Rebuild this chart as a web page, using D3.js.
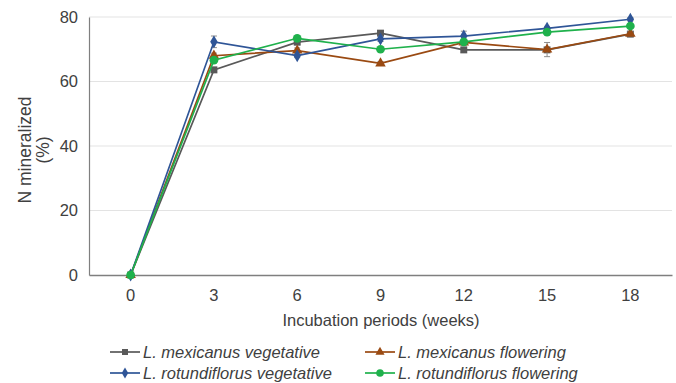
<!DOCTYPE html>
<html lang="en">

<head>
    <meta charset="UTF-8">
    <title>N mineralized</title>
    <script src="https://d3js.org/d3.v7.min.js"></script>
    <style>
        body { margin: 0; background: #fff; }
        text { font-family: "Liberation Sans", Arial, sans-serif; fill: #404040; }
    </style>
</head>

<body>
    <div id="chart"></div>
    <script>
        // weeks of incubation
        const weeks = ["0", "3", "6", "9", "12", "15", "18"];
        const yTicks = [0, 20, 40, 60, 80];

        const mexVeg = [0, 63.6, 72.2, 75.0, 69.8, 69.8, 74.7];
        const mexFlo = [0, 68.0, 69.6, 65.6, 72.1, 69.9, 74.8];
        const rotVeg = [0, 72.3, 68.0, 73.2, 74.1, 76.5, 79.3];
        const rotFlo = [0, 66.6, 73.4, 70.0, 72.3, 75.3, 77.2];

        // standard errors
        const mexVegErr = [0, 0.8, 0.8, 0.8, 0.8, 0.8, 0.8];
        const mexFloErr = [0, 0.8, 0.8, 0.6, 0.8, 2.2, 0.6];
        const rotVegErr = [0, 1.8, 0.6, 0.8, 1.5, 0.6, 0.5];
        const rotFloErr = [0, 0.6, 0.6, 0.6, 0.6, 0.6, 0.5];

        const seriesNames = ["L. mexicanus vegetative", "L. mexicanus flowering",
            "L. rotundiflorus vegetative", "L. rotundiflorus flowering"];
        const colors = ["#595959", "#9a4a12", "#2f5597", "#1fb14c"];
        const symbols = [d3.symbolSquare, d3.symbolTriangle, d3.symbolDiamond, d3.symbolCircle];

        const series = [mexVeg, mexFlo, rotVeg, rotFlo].map((vals, i) => ({
            name: seriesNames[i],
            color: colors[i],
            symbol: symbols[i],
            values: vals.map((v, j) => ({ week: weeks[j], v: v, err: [mexVegErr, mexFloErr, rotVegErr, rotFloErr][i][j] }))
        }));

        const W = 676, H = 383;
        const margin = { top: 17, right: 4, bottom: 108, left: 89 };
        const width = W - margin.left - margin.right;
        const height = H - margin.top - margin.bottom;

        const svg = d3.select("#chart").append("svg")
            .attr("width", W).attr("height", H);
        const g = svg.append("g")
            .attr("transform", "translate(" + margin.left + "," + margin.top + ")");

        const x = d3.scaleBand().domain(weeks).range([0, width]);
        const y = d3.scaleLinear().domain([0, 80]).range([height, 0]);
        const cx = d => x(d) + x.bandwidth() / 2;

        // gridlines
        g.selectAll(".grid").data(yTicks.filter(t => t > 0)).enter().append("line")
            .attr("x1", 0).attr("x2", width)
            .attr("y1", d => y(d)).attr("y2", d => y(d))
            .attr("stroke", "#e3e3e3").attr("stroke-width", 1);

        // y axis
        const yAxis = g.append("g").call(d3.axisLeft(y).tickValues(yTicks).tickSize(0).tickPadding(11));
        yAxis.select(".domain").attr("stroke", "#7f7f7f").attr("stroke-width", 1.2);
        yAxis.selectAll("text").style("font-size", "16.5px").attr("fill", "#404040");

        // x axis
        const xAxis = g.append("g").attr("transform", "translate(0," + height + ")")
            .call(d3.axisBottom(x).tickSize(0).tickPadding(14));
        xAxis.select(".domain").attr("stroke", "#7f7f7f").attr("stroke-width", 1.5);
        xAxis.selectAll("text").style("font-size", "16.5px").attr("fill", "#404040");

        // axis titles
        svg.append("text").attr("transform", "translate(31,150) rotate(-90)")
            .attr("text-anchor", "middle").style("font-size", "17.5px").text("N mineralized");
        svg.append("text").attr("transform", "translate(49,150) rotate(-90)")
            .attr("text-anchor", "middle").style("font-size", "17.5px").text("(%)");
        svg.append("text").attr("x", 381).attr("y", 326)
            .attr("text-anchor", "middle").style("font-size", "16.5px").text("Incubation periods (weeks)");

        const line = d3.line().x(d => cx(d.week)).y(d => y(d.v));

        series.forEach(s => {
            const sg = g.append("g");
            // error bars
            sg.selectAll(".eb").data(s.values.filter(d => d.err > 0)).enter().append("path")
                .attr("d", d => {
                    const xx = cx(d.week), y1 = y(d.v + d.err), y2 = y(d.v - d.err);
                    return "M" + (xx - 3) + "," + y1 + "H" + (xx + 3) + "M" + xx + "," + y1 + "V" + y2 +
                        "M" + (xx - 3) + "," + y2 + "H" + (xx + 3);
                })
                .attr("stroke", "#8c8c8c").attr("stroke-width", 1).attr("fill", "none");
            sg.append("path").datum(s.values)
                .attr("d", line).attr("fill", "none")
                .attr("stroke", s.color).attr("stroke-width", 1.7);
            sg.selectAll(".pt").data(s.values).enter().append("path")
                .attr("transform", d => "translate(" + cx(d.week) + "," + y(d.v) + ")")
                .attr("d", d3.symbol().type(s.symbol).size(s.symbol === d3.symbolCircle ? 60 : 48))
                .attr("fill", s.color);
        });

        // legend
        const legendPos = [[110, 352], [365, 352], [110, 373], [365, 373]];
        series.forEach((s, i) => {
            const lg = svg.append("g").attr("transform", "translate(" + legendPos[i][0] + "," + legendPos[i][1] + ")");
            lg.append("line").attr("x1", 0).attr("x2", 30).attr("y1", 0).attr("y2", 0)
                .attr("stroke", s.color).attr("stroke-width", 1.7);
            lg.append("path").attr("transform", "translate(15,0)")
                .attr("d", d3.symbol().type(s.symbol).size(s.symbol === d3.symbolCircle ? 45 : 36))
                .attr("fill", s.color);
            lg.append("text").attr("x", 33).attr("y", 6)
                .style("font-size", "16.5px").style("font-style", "italic").text(s.name);
        });
    </script>
</body>

</html>
